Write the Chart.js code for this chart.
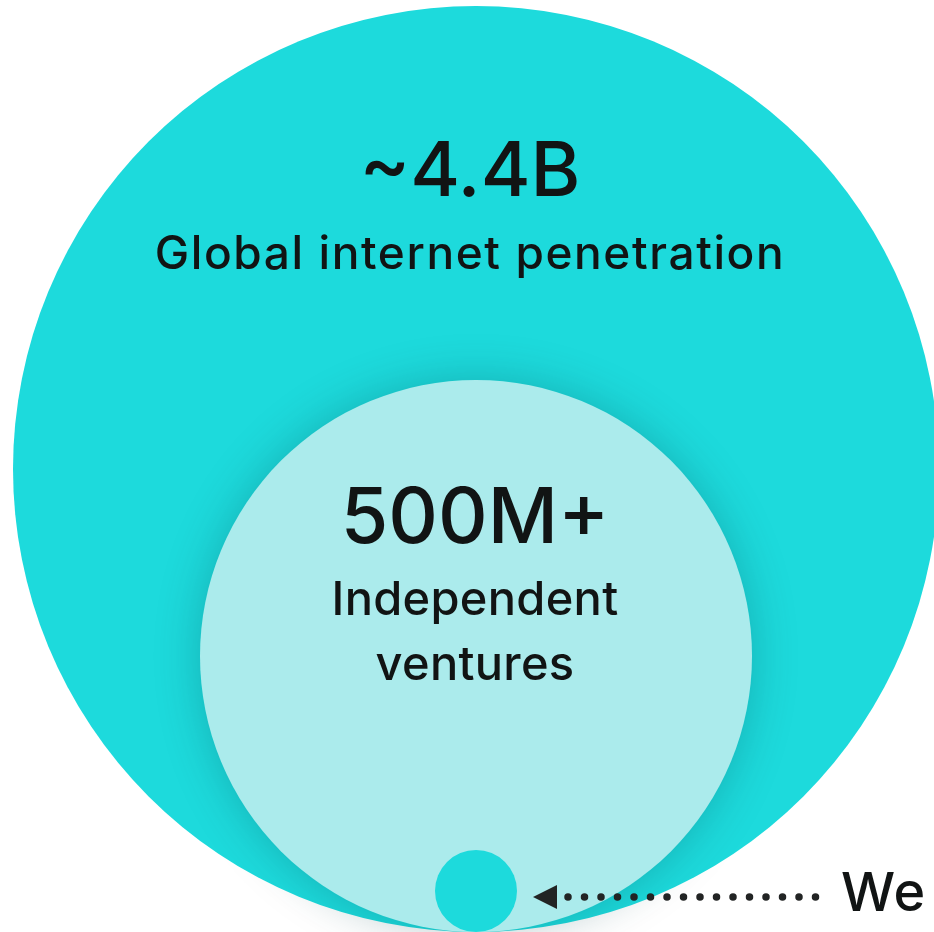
<!DOCTYPE html>
<html>
<head>
<meta charset="utf-8">
<script src="https://cdn.jsdelivr.net/npm/chart.js@4.4.1/dist/chart.umd.min.js"></script>
<style>
    html, body { margin: 0; padding: 0; background: #ffffff; }
    #wrap { width: 934px; height: 932px; position: relative; overflow: hidden; }
</style>
</head>
<body>
<div id="wrap"><canvas id="canvas"></canvas></div>
<script>
// Nested circles, biggest first, all sitting on the same baseline
const circleKeys = ['internet', 'ventures', 'we'];
const circleRadius = [463, 276, 41];
const circleValues = ['~4.4B', '500M+', ''];
const circleCaptions = [['Global internet penetration'], ['Independent', 'ventures'], []];
const pointerLabel = 'We';

const colors = {
    teal: '#1ddadc',
    light: '#abebec',
    text: '#111414',
    shadow: 'rgba(0, 70, 75, 0.28)'
};
const fillColors = [colors.teal, colors.light, colors.teal];

// text layout, offsets from the top of each circle (px)
const textLayout = [
    { dx: -6, value: { dy: 190, size: 76 }, caption: { dy: 263, size: 46, gap: 0, spacing: 1.6 } },
    { dx: -1, value: { dy: 163, size: 77 }, caption: { dy: 235, size: 47, gap: 65, spacing: 0.3 } }
];

const canvas = document.getElementById('canvas');
const ctx = canvas.getContext('2d');
const FONT = 'Inter, "Open Sans", sans-serif';

// radius in data units -> pixels through the y scale
function radiusPx(chart, r) {
    const y = chart.scales.y;
    return y.getPixelForValue(0) - y.getPixelForValue(r);
}

const shadowPlugin = {
    id: 'circleShadow',
    beforeDatasetDraw(chart, args) {
        if (!chart.data.datasets[args.index].shadow) return;
        chart.ctx.save();
        chart.ctx.shadowColor = colors.shadow;
        chart.ctx.shadowBlur = 45;
    },
    afterDatasetDraw(chart, args) {
        if (!chart.data.datasets[args.index].shadow) return;
        chart.ctx.restore();
    }
};

const labelPlugin = {
    id: 'circleLabels',
    afterDatasetsDraw(chart) {
        const c = chart.ctx;
        const xs = chart.scales.x;
        const ys = chart.scales.y;
        c.save();
        c.fillStyle = colors.text;
        c.textAlign = 'center';
        c.textBaseline = 'alphabetic';

        textLayout.forEach((t, i) => {
            const cx = xs.getPixelForValue(0) + t.dx;
            const top = ys.getPixelForValue(2 * circleRadius[i]);
            c.letterSpacing = '0px';
            c.font = `500 ${t.value.size}px ${FONT}`;
            c.fillText(circleValues[i], cx, top + t.value.dy);
            c.letterSpacing = t.caption.spacing + 'px';
            c.font = `500 ${t.caption.size}px ${FONT}`;
            circleCaptions[i].forEach((line, j) => {
                c.fillText(line, cx, top + t.caption.dy + j * t.caption.gap);
            });
        });
        c.letterSpacing = '0px';

        // pointer from the small circle out to the label
        const last = circleRadius.length - 1;
        const sx = xs.getPixelForValue(0) + radiusPx(chart, circleRadius[last]);
        const sy = ys.getPixelForValue(circleRadius[last]) + 6;
        const tipX = sx + 16;

        c.beginPath();
        c.moveTo(tipX, sy);
        c.lineTo(tipX + 24, sy - 12);
        c.lineTo(tipX + 24, sy + 12);
        c.closePath();
        c.fillStyle = '#222424';
        c.fill();

        c.strokeStyle = '#222424';
        c.lineWidth = 7.5;
        c.lineCap = 'round';
        c.setLineDash([0, 16.5]);
        c.beginPath();
        c.moveTo(tipX + 35, sy);
        c.lineTo(tipX + 35 + 16.5 * 15 + 1, sy);
        c.stroke();
        c.setLineDash([]);

        c.fillStyle = colors.text;
        c.textAlign = 'left';
        c.letterSpacing = '1px';
        c.font = `500 54px ${FONT}`;
        c.fillText(pointerLabel, tipX + 308, sy + 14);
        c.restore();
    }
};

const datasets = circleKeys.map((key, i) => ({
    label: key,
    data: [{ x: 0, y: circleRadius[i], r: 1 }],
    backgroundColor: fillColors[i],
    borderWidth: 0,
    hoverBorderWidth: 0,
    order: circleKeys.length - i,
    clip: false,
    shadow: key === 'ventures'
}));

const myChart = new Chart(ctx, {
    type: 'bubble',
    data: { datasets: datasets },
    options: {
        responsive: true,
        maintainAspectRatio: false,
        animation: false,
        events: [],
        layout: { padding: 0, autoPadding: false },
        plugins: {
            legend: { display: false },
            tooltip: { enabled: false }
        },
        scales: {
            x: { type: 'linear', min: -476, max: 458, display: false },
            y: { type: 'linear', min: 0, max: 932, display: false }
        }
    },
    plugins: [shadowPlugin, labelPlugin]
});

// bubble r is in pixels: once the scales are laid out, convert each radius
myChart.data.datasets.forEach((ds, i) => {
    ds.data = [{ x: 0, y: circleRadius[i], r: radiusPx(myChart, circleRadius[i]) }];
});
myChart.update();
</script>
</body>
</html>
